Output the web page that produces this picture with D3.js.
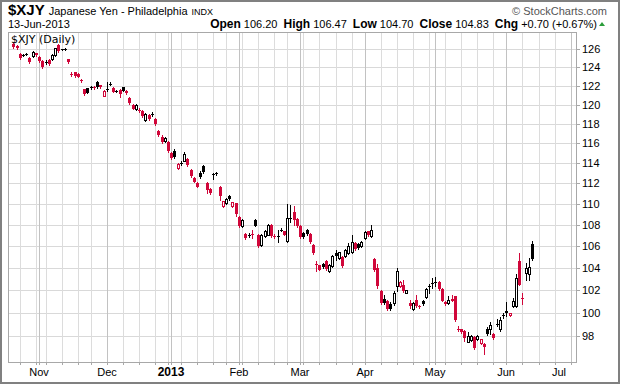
<!DOCTYPE html>
<meta charset="utf-8">
<head>
<style>
body { margin: 0; background: #fff; }
svg { display: block; font-family: "Liberation Sans", Arial, sans-serif; }
.grid line, .frame, .wick, .body { shape-rendering: crispEdges; }
</style>
</head>
<body>
<svg width="620" height="384"></svg>
<script src="https://d3js.org/d3.v7.min.js"></script>
<script>

// trading days shown on the chart
var dates = [
  "2012-10-18","2012-10-19","2012-10-22","2012-10-23","2012-10-24","2012-10-25","2012-10-26","2012-10-31",
  "2012-11-01","2012-11-02","2012-11-05","2012-11-06","2012-11-07","2012-11-08","2012-11-09","2012-11-12","2012-11-13","2012-11-14","2012-11-15","2012-11-16","2012-11-19","2012-11-20","2012-11-21","2012-11-23","2012-11-26","2012-11-27","2012-11-28","2012-11-29","2012-11-30",
  "2012-12-03","2012-12-04","2012-12-05","2012-12-06","2012-12-07","2012-12-10","2012-12-11","2012-12-12","2012-12-13","2012-12-14","2012-12-17","2012-12-18","2012-12-19","2012-12-20","2012-12-21","2012-12-24","2012-12-26","2012-12-27","2012-12-28","2012-12-31",
  "2013-01-02","2013-01-03","2013-01-04","2013-01-07","2013-01-08","2013-01-09","2013-01-10","2013-01-11","2013-01-14","2013-01-15","2013-01-16","2013-01-17","2013-01-18","2013-01-22","2013-01-23","2013-01-24","2013-01-25","2013-01-28","2013-01-29","2013-01-30","2013-01-31",
  "2013-02-01","2013-02-04","2013-02-05","2013-02-06","2013-02-07","2013-02-08","2013-02-11","2013-02-12","2013-02-13","2013-02-14","2013-02-15","2013-02-19","2013-02-20","2013-02-21","2013-02-22","2013-02-25","2013-02-26","2013-02-27","2013-02-28",
  "2013-03-01","2013-03-04","2013-03-05","2013-03-06","2013-03-07","2013-03-08","2013-03-11","2013-03-12","2013-03-13","2013-03-14","2013-03-15","2013-03-18","2013-03-19","2013-03-20","2013-03-21","2013-03-22","2013-03-25","2013-03-26","2013-03-27","2013-03-28",
  "2013-04-01","2013-04-02","2013-04-03","2013-04-04","2013-04-05","2013-04-08","2013-04-09","2013-04-10","2013-04-11","2013-04-12","2013-04-15","2013-04-16","2013-04-17","2013-04-18","2013-04-19","2013-04-22","2013-04-23","2013-04-24","2013-04-25","2013-04-26","2013-04-29","2013-04-30",
  "2013-05-01","2013-05-02","2013-05-03","2013-05-06","2013-05-07","2013-05-08","2013-05-09","2013-05-10","2013-05-13","2013-05-14","2013-05-15","2013-05-16","2013-05-17","2013-05-20","2013-05-21","2013-05-22","2013-05-23","2013-05-24","2013-05-28","2013-05-29","2013-05-30","2013-05-31",
  "2013-06-03","2013-06-04","2013-06-05","2013-06-06","2013-06-07","2013-06-10","2013-06-11","2013-06-12","2013-06-13"
];

// empty slots to the right of the last bar
var futureDates = ["2013-06-14","2013-06-17","2013-06-18","2013-06-19","2013-06-20","2013-06-21","2013-06-24","2013-06-25","2013-06-26","2013-06-27","2013-06-28","2013-07-01","2013-07-02"];

var open = [126.55,126.33,125.45,125.30,125.38,124.98,125.23,125.52,
  125.15,124.68,124.56,124.79,124.90,125.34,126.44,125.92,125.95,124.87,123.28,123.44,123.28,122.65,121.63,121.73,121.80,121.86,122.45,122.04,120.95,
  121.58,122.15,121.78,121.45,121.55,121.83,121.48,120.73,120.00,119.52,119.42,119.30,118.40,118.92,118.95,118.50,117.30,116.69,116.20,116.17,
  115.06,115.26,113.52,113.95,114.26,114.40,113.34,112.52,112.08,113.07,113.74,112.02,111.45,112.86,112.96,111.64,109.77,110.09,110.73,109.80,110.06,
  108.72,107.86,107.17,107.05,107.10,108.50,107.08,106.15,106.92,107.08,108.02,106.95,106.88,107.50,107.39,106.45,108.62,109.20,108.57,
  107.86,107.20,107.52,107.10,106.12,104.35,104.25,104.37,104.60,103.70,104.22,105.38,104.92,105.00,105.07,105.38,105.44,106.30,106.21,105.99,
  106.77,107.39,106.98,104.82,104.00,101.90,101.25,101.07,100.78,100.81,102.35,102.35,102.50,101.76,100.87,100.28,101.16,100.60,101.00,101.36,102.30,102.60,
  102.68,102.74,102.14,100.98,100.81,101.20,101.45,98.62,98.54,98.45,97.50,97.60,97.85,97.68,97.34,97.30,98.54,98.54,98.17,98.98,98.54,99.72,
  100.15,99.80,100.58,100.58,104.59,101.30,103.55,103.47,106.20];

var high = [126.66,126.44,125.56,125.50,125.55,125.09,125.81,125.60,
  125.25,124.75,124.75,124.90,125.45,126.15,126.55,126.05,126.10,124.95,123.45,123.50,123.35,122.70,121.70,121.80,121.95,121.95,122.55,122.10,121.55,
  122.45,122.40,121.85,121.60,121.62,121.90,121.55,120.80,120.08,120.10,119.60,119.40,119.10,119.00,119.20,118.60,117.37,116.80,116.60,116.25,
  115.15,115.40,114.00,114.20,115.15,114.50,113.45,112.60,112.15,113.20,113.85,112.10,111.50,113.05,113.15,111.70,110.30,110.60,110.85,110.20,110.10,
  108.80,108.60,107.25,107.20,107.55,108.60,107.10,107.15,107.50,108.10,108.10,107.15,107.55,107.70,107.45,110.00,109.90,109.80,108.65,
  107.95,107.30,107.60,107.20,106.20,104.60,104.30,104.45,104.70,104.40,105.15,105.68,105.50,105.10,105.70,106.30,107.08,106.40,106.30,106.45,
  107.40,107.45,108.02,104.95,104.40,102.00,101.55,101.15,100.90,101.90,104.00,102.80,102.95,102.05,101.16,100.95,101.60,100.70,101.10,102.20,102.55,103.10,
  103.15,102.80,102.20,101.05,101.45,101.55,101.50,98.80,98.60,98.50,98.30,98.10,97.95,98.10,97.75,97.38,98.77,99.15,98.25,99.43,99.60,99.99,
  100.90,100.00,101.30,103.48,105.40,101.75,104.47,104.93,106.47];

var low = [126.11,126.00,124.90,125.20,125.30,124.42,125.09,125.20,
  124.60,123.95,124.40,124.25,124.80,125.25,125.70,125.85,125.85,124.45,123.00,122.95,122.90,122.40,121.05,121.20,121.70,121.70,121.80,121.75,120.90,
  121.40,122.05,121.30,121.35,120.80,121.40,121.10,120.05,119.50,119.45,119.20,118.75,118.30,118.40,118.85,117.85,116.76,116.05,116.10,115.15,
  114.45,114.50,113.45,113.80,114.20,113.75,112.60,112.10,111.60,112.50,113.05,111.10,111.00,112.45,112.85,110.41,109.70,110.00,110.40,109.75,108.87,
  107.80,107.80,106.70,106.90,106.77,107.85,105.90,106.00,106.85,107.00,106.85,106.75,106.36,107.40,107.00,106.40,108.30,108.00,107.80,
  106.80,106.80,107.05,106.30,105.30,103.70,103.80,104.00,103.85,103.65,104.10,104.76,104.85,104.10,105.00,105.30,105.40,105.65,105.75,105.90,
  106.70,106.95,106.90,103.75,102.20,100.74,100.74,100.20,100.25,100.66,101.90,102.30,101.80,101.70,100.43,100.20,100.50,100.45,100.65,101.30,101.75,102.20,
  102.35,102.05,101.00,100.65,100.72,101.00,99.25,98.40,98.20,97.55,97.45,97.55,96.85,97.60,97.30,96.44,98.10,98.11,97.70,98.82,98.45,99.55,
  99.70,99.75,100.50,100.50,102.45,100.80,102.95,102.95,104.70];

var close = [126.22,126.11,124.98,125.36,125.44,124.55,125.70,125.30,
  124.71,124.06,124.62,124.36,125.34,126.08,125.81,125.96,125.99,124.53,123.22,123.00,122.95,122.50,121.13,121.27,121.84,121.80,121.85,121.82,121.45,
  121.63,122.20,121.37,121.49,121.13,121.48,121.20,120.15,119.58,120.00,119.36,118.85,118.99,118.50,119.00,117.95,116.90,116.18,116.52,115.26,
  114.55,114.58,113.90,114.00,114.93,113.83,112.68,112.18,111.69,112.61,113.14,111.38,111.05,112.91,113.01,110.73,110.25,110.48,110.50,110.14,109.07,
  107.85,108.50,106.80,107.08,107.05,107.90,105.99,107.08,107.39,108.02,106.92,106.90,106.94,107.55,107.08,108.66,108.70,108.43,107.86,
  106.86,106.90,107.11,106.36,105.38,104.28,103.85,104.10,103.94,104.31,105.07,105.10,105.44,104.15,105.62,105.99,106.37,105.74,105.84,106.37,
  107.29,107.08,107.55,103.85,102.35,100.84,100.87,100.28,100.35,101.75,103.70,102.74,101.90,101.99,100.58,100.87,100.58,100.55,100.72,102.10,102.35,102.65,
  102.72,102.14,101.07,100.72,101.16,101.07,99.40,98.57,98.28,97.77,97.95,98.00,96.91,97.97,97.68,97.00,98.17,98.94,97.77,99.03,99.40,99.76,
  99.95,99.93,101.07,103.10,102.50,101.25,104.00,104.13,104.83];

var yTicks = [98, 100, 102, 104, 106, 108, 110, 112, 114, 116, 118, 120, 122, 124, 126];
var monthNames = ["Nov", "Dec", "2013", "Feb", "Mar", "Apr", "May", "Jun", "Jul"];
var yDomain = [95.77, 127.89];

var svg = d3.select("svg"),
    width = 620,
    height = 384,
    plot = {left: 8, right: 576, top: 32, bottom: 362};

var red = "#d0073a";
var allDates = dates.concat(futureDates);

var x = d3.scaleLinear().domain([0, dates.length - 1]).range([13.3, 532.1]);
var y = d3.scaleLog().domain(yDomain).range([plot.bottom, plot.top]);

function px(i) { return Math.round(x(i)); }
function dayOf(s) { return new Date(s + "T00:00:00Z"); }

// figure out week and month starts
var weekStarts = [], monthStarts = [];
allDates.forEach(function(s, i) {
  if (i == 0) return;
  var d = dayOf(s), p = dayOf(allDates[i - 1]);
  if (d.getUTCMonth() != p.getUTCMonth()) monthStarts.push(i);
  else if (d.getUTCDay() < p.getUTCDay()) weekStarts.push(i);
});

svg.append("rect")
    .attr("width", width).attr("height", height).attr("fill", "#fff");

var grid = svg.append("g").attr("class", "grid");

grid.selectAll(".hline")
  .data(yTicks)
  .enter().append("line")
    .attr("x1", plot.left).attr("x2", plot.right)
    .attr("y1", function(d) { return Math.round(y(d)) + 0.5; })
    .attr("y2", function(d) { return Math.round(y(d)) + 0.5; })
    .attr("stroke", "#d9d9d9");

grid.selectAll(".wline")
  .data(weekStarts)
  .enter().append("line")
    .attr("x1", function(i) { return px(i) + 0.5; })
    .attr("x2", function(i) { return px(i) + 0.5; })
    .attr("y1", plot.top).attr("y2", plot.bottom)
    .attr("stroke", "#dcdcdc");

grid.selectAll(".mline")
  .data(monthStarts)
  .enter().append("line")
    .attr("x1", function(i) { return px(i) + 0.5; })
    .attr("x2", function(i) { return px(i) + 0.5; })
    .attr("y1", plot.top).attr("y2", plot.bottom)
    .attr("stroke", "#c2c2c2");

// plot frame
svg.append("rect")
    .attr("class", "frame")
    .attr("x", plot.left + 0.5).attr("y", plot.top + 0.5)
    .attr("width", plot.right - plot.left).attr("height", plot.bottom - plot.top)
    .attr("fill", "none").attr("stroke", "#a8a8a8");

// y axis ticks + labels
svg.selectAll(".ytick")
  .data(yTicks)
  .enter().append("line")
    .attr("class", "frame")
    .attr("x1", plot.right).attr("x2", plot.right + 4)
    .attr("y1", function(d) { return Math.round(y(d)) + 0.5; })
    .attr("y2", function(d) { return Math.round(y(d)) + 0.5; })
    .attr("stroke", "#a8a8a8");

svg.selectAll(".ylab")
  .data(yTicks)
  .enter().append("text")
    .attr("x", plot.right + 6)
    .attr("y", function(d) { return y(d) + 4; })
    .style("font-size", "11px")
    .text(function(d) { return d; });

// x axis tick marks + month labels
svg.selectAll(".xtick")
  .data(weekStarts.concat(monthStarts))
  .enter().append("line")
    .attr("class", "frame")
    .attr("x1", function(i) { return px(i) + 0.5; })
    .attr("x2", function(i) { return px(i) + 0.5; })
    .attr("y1", plot.bottom).attr("y2", plot.bottom + 3)
    .attr("stroke", "#a8a8a8");

svg.selectAll(".xlab")
  .data(monthStarts)
  .enter().append("text")
    .attr("x", function(i) { return Math.min(px(i), plot.right - 17); })
    .attr("y", 376)
    .attr("text-anchor", "middle")
    .style("font-size", function(i, k) { return monthNames[k] == "2013" ? "12px" : "11px"; })
    .style("font-weight", function(i, k) { return monthNames[k] == "2013" ? "bold" : "normal"; })
    .text(function(i, k) { return monthNames[k]; });

// candles: hollow when close > open, red when close < previous close
var candle = svg.append("g")
  .selectAll("g")
  .data(dates.map(function(d, i) { return i; }))
  .enter().append("g")
    .each(function(i) {
      var g = d3.select(this),
          cx = px(i),
          prev = i > 0 ? close[i - 1] : open[i],
          col = close[i] < prev ? red : "#000",
          hollow = close[i] > open[i],
          yTop = Math.round(y(Math.max(open[i], close[i]))),
          yBot = Math.round(y(Math.min(open[i], close[i])));

      g.append("line")
          .attr("class", "wick")
          .attr("x1", cx + 0.5).attr("x2", cx + 0.5)
          .attr("y1", Math.round(y(high[i]))).attr("y2", Math.round(y(low[i])) + 1)
          .attr("stroke", col);

      if (hollow && yBot - yTop >= 2) {
        g.append("rect")
            .attr("class", "body")
            .attr("x", cx - 0.5).attr("y", yTop + 0.5)
            .attr("width", 2).attr("height", yBot - yTop)
            .attr("fill", "#fff").attr("stroke", col);
      } else {
        g.append("rect")
            .attr("class", "body")
            .attr("x", cx - 1).attr("y", yTop)
            .attr("width", 3).attr("height", Math.max(1, yBot - yTop))
            .attr("fill", col);
      }
    });

// label inside the plot
svg.append("text")
    .attr("x", 11).attr("y", 43)
    .style("font-family", "'DejaVu Sans', Verdana, sans-serif")
    .style("font-size", "11px")
    .text("$XJY (Daily)");

// header
var head = svg.append("text").attr("x", 8).attr("y", 15);
head.append("tspan").style("font-weight", "bold").style("font-size", "15px").text("$XJY");
head.append("tspan").attr("dx", 4).style("font-size", "11px").text("Japanese Yen - Philadelphia");
head.append("tspan").attr("dx", 4).style("font-size", "9px").text("INDX");

svg.append("text")
    .attr("x", 607).attr("y", 15)
    .attr("text-anchor", "end")
    .style("font-size", "11px")
    .attr("fill", "#555")
    .text("\u00a9 StockCharts.com");

svg.append("text")
    .attr("x", 8).attr("y", 28)
    .style("font-size", "11px")
    .text("13-Jun-2013");

var last = dates.length - 1,
    chg = close[last] - close[last - 1];
var quote = svg.append("text")
    .attr("x", 597).attr("y", 28)
    .attr("text-anchor", "end")
    .style("font-size", "11px");
[["Open", open[last]], ["High", high[last]], ["Low", low[last]], ["Close", close[last]]].forEach(function(p, k) {
  quote.append("tspan").attr("dx", k ? 6 : 0).style("font-weight", "bold").style("font-size", "12px").text(p[0]);
  quote.append("tspan").attr("dx", 3).text(p[1].toFixed(2));
});
quote.append("tspan").attr("dx", 6).style("font-weight", "bold").style("font-size", "12px").text("Chg");
quote.append("tspan").attr("dx", 3)
    .text("+" + chg.toFixed(2) + " (+" + (chg / close[last - 1] * 100).toFixed(2) + "%)");

svg.append("path")
    .attr("d", "M599,26 L605,26 L602,22 Z")
    .attr("fill", "#2a9d3a");

// outer border
svg.append("rect")
    .attr("x", 1).attr("y", 1)
    .attr("width", width - 2).attr("height", height - 2)
    .attr("fill", "none").attr("stroke", "#808080").attr("stroke-width", 2);

</script>
</body>
